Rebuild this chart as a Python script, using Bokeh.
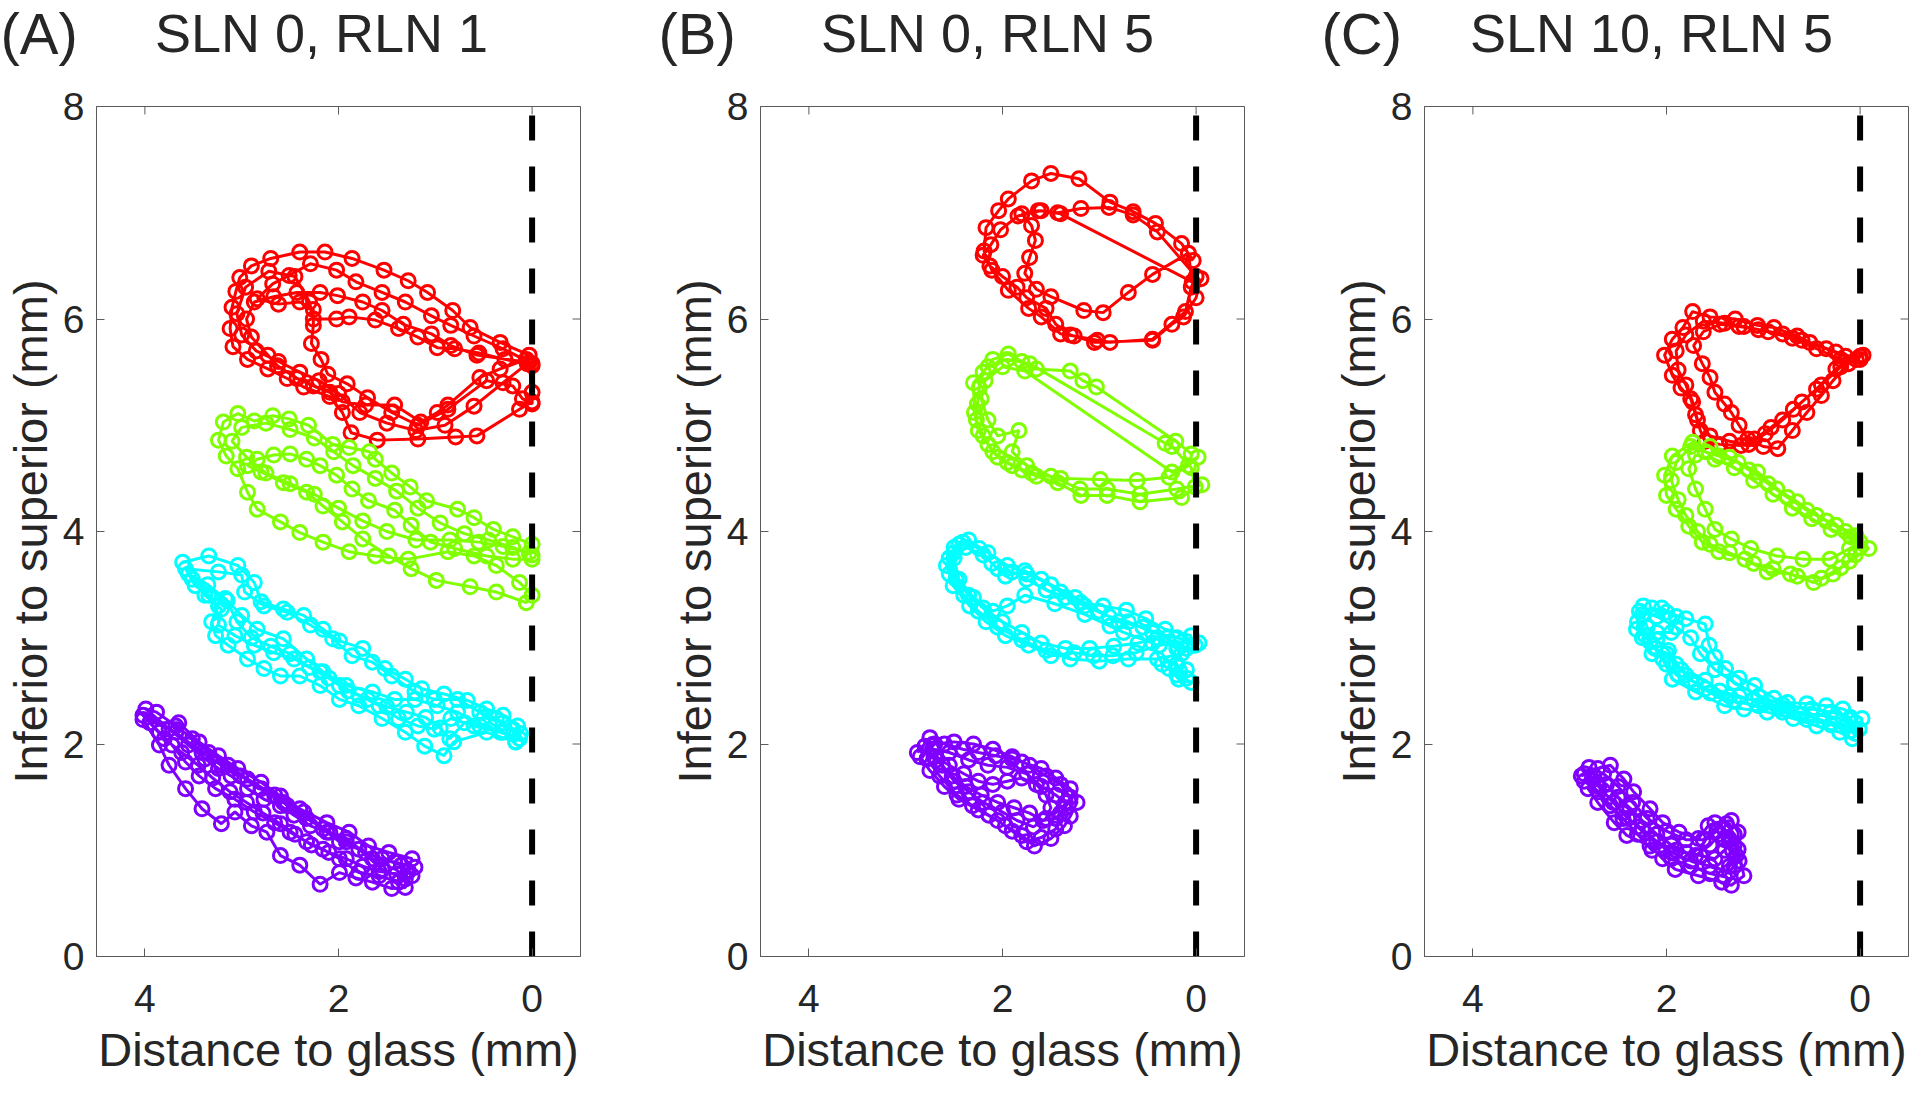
import math
from bokeh.plotting import figure
from bokeh.layouts import row, column
from bokeh.models import Range1d, FixedTicker, Label
from bokeh.embed import file_html
from bokeh.resources import INLINE

# ---------------- chart text / ticks ----------------
PANEL_TAGS = ["(A)", "(B)", "(C)"]
PANEL_TITLES = ["SLN 0, RLN 1", "SLN 0, RLN 5", "SLN 10, RLN 5"]
X_LABEL = "Distance to glass (mm)"
Y_LABEL = "Inferior to superior (mm)"
X_TICKS = [0, 2, 4]
Y_TICKS = [0, 2, 4, 6, 8]
X_LIMITS = (4.5, -0.5)
Y_LIMITS = (0, 8)
GLASS_X = 0.0
SERIES_COLORS = ["#FF0000", "#80FF00", "#00FFFF", "#8000FF"]

# ---------------- data: (distance to glass, inferior->superior) in mm ----------------
A_RED = [
    (0.03, 5.66), (0.33, 5.78), (0.64, 5.92), (0.82, 6.08), (1.08, 6.25), (1.28, 6.36), (1.53, 6.46),
    (1.86, 6.57), (2.14, 6.63), (2.40, 6.63), (2.70, 6.57), (2.90, 6.50), (3.02, 6.39), (3.06, 6.26),
    (3.10, 6.11), (3.12, 5.91), (3.09, 5.74), (2.94, 5.62), (2.73, 5.53), (2.53, 5.44), (2.36, 5.36),
    (2.09, 5.27), (1.96, 5.12), (1.87, 4.93), (1.60, 4.86), (1.18, 4.87), (0.79, 4.89), (0.57, 4.90),
    (0.13, 5.15), (0.00, 5.22), (0.00, 5.31), (0.03, 5.59),
    (0.57, 5.66), (0.84, 5.75), (1.04, 5.86), (1.33, 5.95), (1.55, 6.08), (1.75, 6.16), (2.01, 6.22),
    (2.19, 6.25), (2.43, 6.25), (2.67, 6.21), (2.87, 6.16), (2.95, 6.00), (2.90, 5.83), (2.73, 5.66),
    (2.63, 5.56), (2.43, 5.44), (2.26, 5.37), (2.09, 5.31), (1.96, 5.22), (1.72, 5.19), (1.42, 5.19),
    (1.15, 5.03), (0.98, 5.12), (0.87, 5.19), (0.54, 5.45), (0.33, 5.53), (0.06, 5.62),
    (0.00, 5.58), (0.30, 5.72), (0.60, 5.84), (0.84, 5.94), (1.04, 6.03), (1.31, 6.16), (1.55, 6.25),
    (1.82, 6.35), (2.02, 6.46), (2.29, 6.52), (2.51, 6.41), (2.68, 6.33), (2.84, 6.19), (2.62, 6.14),
    (2.40, 6.16), (2.26, 6.09), (2.26, 5.94), (2.28, 5.77), (2.18, 5.62), (2.11, 5.48), (1.91, 5.39),
    (1.70, 5.26), (1.45, 5.12), (1.18, 5.00), (0.87, 5.15), (0.47, 5.42), (0.20, 5.37), (0.10, 5.25),
    (0.00, 5.20),
    (0.00, 5.56), (0.28, 5.62), (0.55, 5.68), (0.80, 5.72), (0.98, 5.73), (1.18, 5.83), (1.38, 5.91),
    (1.62, 5.99), (1.89, 6.02), (2.02, 6.00), (2.26, 6.00), (2.30, 6.16), (2.45, 6.40), (2.72, 6.45),
    (2.96, 6.30), (3.05, 6.05), (3.00, 5.85), (2.85, 5.70), (2.62, 5.60), (2.40, 5.50), (2.20, 5.42),
    (2.00, 5.30), (1.78, 5.12), (1.50, 5.02), (1.20, 4.95), (0.90, 5.00), (0.60, 5.18), (0.30, 5.40),
    (0.05, 5.58),
]
A_GREEN = [
    (0.00, 3.88), (0.20, 3.95), (0.40, 4.02), (0.60, 4.13), (0.77, 4.21), (1.09, 4.29), (1.26, 4.42),
    (1.45, 4.55), (1.62, 4.68), (1.68, 4.75), (1.89, 4.79), (2.06, 4.82), (2.31, 5.00), (2.51, 5.06),
    (2.68, 5.09), (2.87, 5.04), (3.04, 5.11), (3.19, 5.03), (3.24, 4.86), (3.16, 4.71), (3.04, 4.59),
    (2.94, 4.37), (2.84, 4.21), (2.60, 4.09), (2.40, 3.99), (2.16, 3.90), (1.89, 3.81), (1.62, 3.77),
    (1.28, 3.74), (0.87, 3.81), (0.60, 3.77), (0.37, 3.68), (0.13, 3.52), (0.00, 3.40),
    (0.06, 3.33), (0.37, 3.43), (0.64, 3.48), (0.99, 3.54), (1.25, 3.65), (1.48, 3.77), (1.75, 3.93),
    (1.96, 4.09), (2.16, 4.24), (2.33, 4.37), (2.57, 4.46), (2.80, 4.56), (2.94, 4.62), (2.84, 4.68),
    (2.67, 4.72), (2.50, 4.73), (2.33, 4.68), (2.19, 4.62), (2.02, 4.53), (1.86, 4.40), (1.69, 4.29),
    (1.42, 4.20), (1.25, 4.06), (1.05, 3.90), (0.80, 3.84), (0.47, 3.77), (0.20, 3.74), (0.00, 3.74),
    (0.03, 3.80), (0.30, 3.86), (0.55, 3.90), (0.85, 3.92), (1.20, 3.92), (1.50, 4.00), (1.75, 4.10),
    (2.00, 4.22), (2.25, 4.35), (2.50, 4.45), (2.75, 4.55), (2.95, 4.70), (3.10, 4.85), (3.00, 4.98),
    (2.75, 5.02), (2.50, 4.96), (2.25, 4.88), (2.05, 4.75), (1.85, 4.62), (1.62, 4.50), (1.40, 4.38),
    (1.18, 4.22), (0.95, 4.08), (0.70, 3.98), (0.45, 3.92), (0.20, 3.85), (0.00, 3.78),
]
A_CYAN = [
    (3.61, 3.71), (3.34, 3.77), (3.04, 3.68), (2.87, 3.52), (2.80, 3.34), (2.57, 3.27), (2.36, 3.21),
    (2.16, 3.08), (1.99, 2.97), (1.75, 2.90), (1.52, 2.71), (1.31, 2.61), (1.14, 2.52), (0.91, 2.47),
    (0.67, 2.41), (0.47, 2.33), (0.30, 2.27), (0.15, 2.17), (0.17, 2.02), (0.47, 2.11), (0.81, 2.02),
    (0.91, 1.89), (1.11, 1.98), (1.31, 2.11), (1.55, 2.24), (1.79, 2.36), (1.99, 2.42), (2.19, 2.55),
    (2.40, 2.64), (2.60, 2.64), (2.77, 2.71), (2.94, 2.80), (3.14, 2.93), (3.27, 3.02), (3.31, 3.15),
    (3.24, 3.30), (3.34, 3.40), (3.48, 3.49), (3.58, 3.65),
    (3.24, 3.62), (3.00, 3.59), (2.97, 3.43), (2.77, 3.30), (2.53, 3.24), (2.29, 3.12), (2.06, 2.99),
    (1.86, 2.83), (1.65, 2.77), (1.45, 2.64), (1.21, 2.49), (1.01, 2.42), (0.77, 2.42), (0.54, 2.30),
    (0.37, 2.24), (0.20, 2.14), (0.13, 2.05), (0.33, 2.11), (0.60, 2.17), (0.84, 2.24), (1.01, 2.14),
    (1.18, 2.17), (1.38, 2.24), (1.58, 2.36), (1.79, 2.46), (1.99, 2.55), (2.19, 2.68), (2.46, 2.80),
    (2.67, 2.86), (2.87, 2.93), (3.07, 3.02), (3.24, 3.12), (3.21, 3.27), (3.38, 3.40), (3.51, 3.55),
    (3.17, 3.37), (3.00, 3.21), (2.84, 3.08), (2.57, 2.99), (2.33, 2.80), (2.16, 2.68), (1.92, 2.55),
    (1.65, 2.49), (1.42, 2.42), (1.21, 2.42), (0.98, 2.36), (0.77, 2.30), (0.54, 2.17), (0.30, 2.11),
    (0.17, 2.02),
    (0.12, 2.10), (0.30, 2.20), (0.50, 2.25), (0.70, 2.20), (0.85, 2.05), (0.95, 2.15), (1.10, 2.25),
    (1.30, 2.30), (1.50, 2.35), (1.70, 2.42), (1.90, 2.50), (2.10, 2.62), (2.30, 2.72), (2.50, 2.85),
    (2.70, 2.92), (2.90, 3.00), (3.05, 3.15), (3.15, 3.35), (3.35, 3.50), (3.55, 3.60),
]
A_PURPLE = [
    (4.02, 2.23), (3.85, 1.99), (3.75, 1.80), (3.58, 1.58), (3.41, 1.39), (3.21, 1.25), (3.07, 1.36),
    (2.90, 1.23), (2.74, 1.17), (2.60, 0.95), (2.40, 0.86), (2.19, 0.68), (1.99, 0.79), (1.82, 0.74),
    (1.65, 0.70), (1.45, 0.64), (1.31, 0.65), (1.21, 0.84), (1.42, 0.89), (1.65, 0.92), (1.92, 1.11),
    (2.09, 1.17), (2.33, 1.30), (2.53, 1.42), (2.66, 1.52), (2.94, 1.67), (3.14, 1.80), (3.34, 1.92),
    (3.51, 2.05), (3.68, 2.17), (3.88, 2.30), (3.99, 2.33),
    (3.75, 2.14), (3.55, 1.99), (3.38, 1.86), (3.24, 1.77), (3.11, 1.70), (2.94, 1.58), (2.77, 1.48),
    (2.60, 1.42), (2.46, 1.33), (2.29, 1.23), (2.12, 1.17), (1.92, 1.08), (1.72, 0.98), (1.55, 0.92),
    (1.35, 0.86), (1.24, 0.76), (1.38, 0.70), (1.58, 0.76), (1.79, 0.79), (1.99, 0.92), (2.16, 1.01),
    (2.33, 1.08), (2.50, 1.17), (2.66, 1.26), (2.87, 1.36), (3.07, 1.48), (3.27, 1.58), (3.44, 1.70),
    (3.58, 1.83), (3.72, 1.99), (3.85, 2.11), (4.02, 2.27),
    (3.68, 2.11), (3.41, 1.92), (3.21, 1.80), (3.01, 1.70), (2.80, 1.58), (2.57, 1.45), (2.36, 1.36),
    (2.16, 1.20), (1.99, 1.08), (1.79, 1.01), (1.55, 0.82), (1.31, 0.73), (1.24, 0.92), (1.48, 0.98),
    (1.69, 1.04), (1.89, 1.17), (2.12, 1.26), (2.40, 1.39), (2.60, 1.51), (2.80, 1.64), (3.04, 1.77),
    (3.24, 1.89), (3.44, 2.02), (3.65, 2.20),
    (3.95, 2.20), (3.80, 2.05), (3.62, 1.92), (3.45, 1.80), (3.30, 1.68), (3.12, 1.55), (2.95, 1.45),
    (2.78, 1.35), (2.60, 1.25), (2.45, 1.15), (2.28, 1.05), (2.10, 0.98), (1.92, 0.92), (1.75, 0.85),
    (1.58, 0.80), (1.40, 0.78), (1.28, 0.80),
]

B_RED = [
    (0.03, 6.55), (0.15, 6.71), (0.42, 6.90), (0.65, 7.01), (0.89, 7.10), (1.21, 7.32), (1.50, 7.37),
    (1.70, 7.30), (1.94, 7.13), (2.04, 7.02), (2.17, 6.86), (2.19, 6.64), (2.11, 6.46), (1.94, 6.27),
    (1.73, 6.10), (1.60, 6.02), (1.40, 5.86), (1.26, 5.84), (1.02, 5.80), (0.89, 5.78), (0.45, 5.81),
    (0.11, 6.07), (0.05, 6.30),
    (0.00, 6.40), (0.40, 6.82), (0.65, 6.98), (0.90, 7.05), (1.19, 7.04), (1.43, 7.00), (1.63, 7.02),
    (1.80, 6.99), (1.70, 6.88), (1.66, 6.74), (1.72, 6.58), (1.77, 6.43), (1.65, 6.28), (1.50, 6.21),
    (1.16, 6.08), (0.96, 6.06), (0.70, 6.25), (0.45, 6.42), (0.08, 6.62),
    (0.04, 6.35), (1.40, 6.99), (1.60, 7.02), (1.84, 6.97), (2.02, 6.84), (2.12, 6.70), (2.20, 6.60),
    (2.13, 6.50), (2.00, 6.40), (1.85, 6.30), (1.75, 6.20), (1.55, 6.10), (1.45, 5.95), (1.30, 5.85),
    (1.05, 5.78), (0.45, 5.80), (0.25, 5.95), (0.13, 6.02), (0.00, 6.20), (-0.05, 6.38),
]
B_GREEN = [
    (0.05, 4.73), (0.21, 4.85), (1.03, 5.36), (1.17, 5.42), (1.30, 5.51), (1.65, 5.53), (1.80, 5.60),
    (1.94, 5.67), (2.10, 5.62), (2.20, 5.50), (2.24, 5.35), (2.26, 5.20), (2.27, 5.05), (2.20, 4.90),
    (2.10, 4.75), (1.95, 4.65), (1.80, 4.58), (1.65, 4.52), (1.43, 4.46), (1.19, 4.34), (0.92, 4.34),
    (0.58, 4.28), (0.15, 4.32), (0.01, 4.42), (0.05, 4.60),
    (0.25, 4.80), (0.32, 4.83), (1.72, 5.58), (1.95, 5.62), (2.15, 5.55), (2.30, 5.40), (2.29, 5.12),
    (2.25, 4.95), (2.15, 4.82), (2.05, 4.70), (1.90, 4.62), (1.70, 4.55), (1.40, 4.50), (0.99, 4.49),
    (0.61, 4.48), (0.28, 4.51), (0.08, 4.62), (-0.02, 4.70),
    (0.25, 4.56), (1.77, 5.51), (2.00, 5.55), (2.18, 5.42), (2.22, 5.25), (2.15, 5.05), (2.05, 4.90),
    (1.83, 4.95), (1.90, 4.75), (1.75, 4.62), (1.50, 4.52), (1.20, 4.40), (0.92, 4.40), (0.58, 4.35),
    (0.20, 4.40), (-0.06, 4.44),
]
B_CYAN = [
    (0.01, 2.93), (0.15, 2.96), (0.38, 2.93), (0.62, 2.86), (0.86, 2.83), (1.06, 2.83), (1.26, 2.86),
    (1.50, 2.83), (1.73, 2.93), (1.97, 3.02), (2.17, 3.15), (2.34, 3.30), (2.51, 3.49), (2.58, 3.68),
    (2.50, 3.85), (2.41, 3.90), (2.24, 3.84), (2.11, 3.70), (1.97, 3.58), (1.77, 3.63), (1.60, 3.55),
    (1.40, 3.43), (1.19, 3.33), (0.96, 3.30), (0.72, 3.26), (0.52, 3.18), (0.32, 3.08), (0.05, 3.02),
    (0.10, 2.90), (0.28, 2.71), (0.18, 2.61), (0.05, 2.58), (0.20, 2.65), (0.35, 2.75), (0.45, 2.95),
    (0.75, 3.05), (0.89, 3.11), (1.15, 3.22), (1.46, 3.32), (1.77, 3.40), (1.95, 3.30), (2.10, 3.25),
    (2.30, 3.38), (2.45, 3.55), (2.50, 3.75), (2.38, 3.85), (2.20, 3.78), (2.05, 3.65), (1.90, 3.62),
    (1.75, 3.55), (1.55, 3.45), (1.35, 3.38), (1.15, 3.30), (0.90, 3.20), (0.70, 3.15), (0.45, 3.05),
    (0.20, 3.00), (-0.03, 2.95),
    (0.15, 2.85), (0.40, 2.80), (0.70, 2.80), (1.00, 2.78), (1.30, 2.80), (1.55, 2.88), (1.80, 2.98),
    (2.05, 3.10), (2.25, 3.25), (2.40, 3.40), (2.55, 3.60), (2.50, 3.80), (2.35, 3.92), (2.15, 3.80),
    (1.95, 3.68), (1.75, 3.60), (1.50, 3.50), (1.25, 3.38), (1.00, 3.25), (0.80, 3.15), (0.55, 3.10),
    (0.30, 3.00), (0.20, 2.75), (0.10, 2.62),
    (0.10, 2.70), (0.20, 2.90), (0.40, 3.00), (0.60, 2.95), (0.85, 2.92), (1.10, 2.90), (1.35, 2.90),
    (1.60, 2.95), (1.80, 3.05), (2.00, 3.15), (2.20, 3.28), (2.35, 3.40), (2.48, 3.55), (2.55, 3.75),
    (2.45, 3.88),
]
B_PURPLE = [
    (2.88, 1.92), (2.75, 2.06), (2.60, 2.00), (2.41, 1.95), (2.25, 1.92), (2.07, 1.89), (1.90, 1.86),
    (1.80, 1.83), (1.60, 1.77), (1.45, 1.68), (1.30, 1.58), (1.23, 1.45), (1.30, 1.32), (1.36, 1.23),
    (1.50, 1.11), (1.67, 1.04), (1.80, 1.14), (1.97, 1.23), (2.14, 1.33), (2.31, 1.42), (2.47, 1.52),
    (2.65, 1.70), (2.78, 1.86),
    (2.70, 1.88), (2.55, 1.80), (2.40, 1.72), (2.25, 1.65), (2.10, 1.62), (1.95, 1.65), (1.80, 1.68),
    (1.65, 1.62), (1.55, 1.52), (1.50, 1.40), (1.55, 1.30), (1.68, 1.22), (1.85, 1.28), (2.00, 1.36),
    (2.20, 1.45), (2.35, 1.55), (2.50, 1.65), (2.62, 1.80), (2.72, 1.95),
    (2.55, 1.92), (2.35, 1.85), (2.15, 1.80), (1.95, 1.78), (1.75, 1.72), (1.60, 1.60), (1.45, 1.52),
    (1.35, 1.45), (1.40, 1.35), (1.45, 1.20), (1.60, 1.12), (1.75, 1.08), (1.90, 1.18), (2.05, 1.28),
    (2.25, 1.38), (2.45, 1.48), (2.60, 1.60), (2.75, 1.75), (2.85, 1.88),
    (2.70, 2.00), (2.50, 2.02), (2.30, 2.00), (2.10, 1.95), (1.90, 1.88), (1.72, 1.80), (1.55, 1.70),
    (1.40, 1.62), (1.30, 1.50), (1.35, 1.40), (1.45, 1.30), (1.58, 1.28), (1.72, 1.35), (1.88, 1.40),
    (2.05, 1.45), (2.22, 1.52), (2.38, 1.60), (2.52, 1.70), (2.68, 1.85), (2.80, 1.98),
]

C_RED = [
    (0.00, 5.62), (0.25, 5.69), (0.52, 5.78), (0.65, 5.84), (0.89, 5.92), (1.06, 5.94), (1.29, 6.00),
    (1.55, 6.02), (1.73, 6.07), (1.83, 5.92), (1.94, 5.81), (2.02, 5.66), (1.94, 5.47), (1.85, 5.35),
    (1.75, 5.25), (1.70, 5.10), (1.65, 4.95), (1.60, 4.85), (1.45, 4.82), (1.23, 4.81), (1.09, 4.87),
    (0.92, 4.98), (0.69, 5.15), (0.45, 5.34), (0.25, 5.53), (0.04, 5.62),
    (0.15, 5.65), (0.35, 5.72), (0.60, 5.80), (0.80, 5.86), (1.05, 5.90), (1.25, 5.93), (1.45, 5.95),
    (1.62, 5.88), (1.72, 5.75), (1.63, 5.58), (1.55, 5.45), (1.50, 5.31), (1.40, 5.20), (1.33, 5.12),
    (1.25, 5.00), (1.16, 4.87), (1.00, 4.80), (0.85, 4.78), (0.70, 4.95), (0.55, 5.12), (0.40, 5.28),
    (0.28, 5.42), (0.12, 5.58), (-0.03, 5.66),
    (0.20, 5.62), (0.45, 5.72), (0.70, 5.82), (0.95, 5.88), (1.20, 5.93), (1.40, 5.96), (1.62, 5.98),
    (1.80, 5.85), (1.90, 5.70), (1.88, 5.52), (1.80, 5.38), (1.73, 5.22), (1.68, 5.05), (1.55, 4.90),
    (1.35, 4.85), (1.15, 4.82), (0.98, 4.92), (0.80, 5.05), (0.60, 5.22), (0.40, 5.38), (0.20, 5.55),
    (0.00, 5.65),
]
C_GREEN = [
    (0.00, 3.85), (0.04, 3.96), (0.25, 4.06), (0.45, 4.15), (0.65, 4.28), (0.86, 4.40), (1.06, 4.56),
    (1.26, 4.65), (1.46, 4.71), (1.60, 4.75), (1.73, 4.84), (1.94, 4.71), (2.02, 4.53), (2.00, 4.34),
    (1.90, 4.21), (1.77, 4.05), (1.63, 3.90), (1.46, 3.81), (1.19, 3.74), (0.96, 3.62), (0.72, 3.60),
    (0.48, 3.52), (0.28, 3.60), (0.11, 3.72), (-0.09, 3.84),
    (0.10, 3.95), (0.30, 4.02), (0.50, 4.12), (0.70, 4.22), (0.90, 4.35), (1.10, 4.48), (1.30, 4.60),
    (1.50, 4.68), (1.70, 4.72), (1.77, 4.59), (1.70, 4.40), (1.60, 4.21), (1.50, 4.02), (1.33, 3.93),
    (1.13, 3.84), (0.86, 3.77), (0.59, 3.74), (0.31, 3.74), (0.11, 3.84), (0.00, 3.90),
    (0.15, 4.00), (0.35, 4.10), (0.55, 4.20), (0.75, 4.32), (0.95, 4.45), (1.15, 4.58), (1.35, 4.70),
    (1.55, 4.80), (1.75, 4.80), (1.90, 4.65), (1.95, 4.48), (1.88, 4.30), (1.80, 4.15), (1.68, 4.00),
    (1.55, 3.88), (1.35, 3.80), (1.10, 3.70), (0.90, 3.65), (0.65, 3.58), (0.40, 3.56), (0.20, 3.66),
    (0.05, 3.78),
]
C_CYAN = [
    (2.24, 3.30), (2.31, 3.08), (2.17, 2.96), (2.04, 2.80), (1.94, 2.61), (1.70, 2.49), (1.40, 2.36),
    (1.20, 2.33), (0.96, 2.30), (0.69, 2.24), (0.45, 2.17), (0.21, 2.11), (0.08, 2.05), (0.01, 2.14),
    (-0.02, 2.24), (0.18, 2.33), (0.35, 2.36), (0.55, 2.38), (0.75, 2.39), (0.89, 2.43), (1.09, 2.55),
    (1.25, 2.62), (1.39, 2.71), (1.50, 2.82), (1.56, 2.93), (1.60, 3.13), (1.80, 3.18), (2.00, 3.24),
    (2.15, 3.28),
    (2.25, 3.22), (2.20, 3.10), (2.10, 2.98), (1.98, 2.88), (1.85, 2.70), (1.75, 2.60), (1.60, 2.52),
    (1.35, 2.45), (1.10, 2.42), (0.85, 2.35), (0.60, 2.28), (0.38, 2.22), (0.15, 2.18), (0.05, 2.10),
    (0.10, 2.25), (0.30, 2.30), (0.50, 2.33), (0.80, 2.37), (1.05, 2.45), (1.30, 2.58), (1.50, 2.70),
    (1.65, 2.85), (1.75, 3.00), (1.90, 3.10), (2.10, 3.20), (2.28, 3.25),
    (2.30, 3.15), (2.22, 3.02), (2.12, 2.90), (2.00, 2.75), (1.88, 2.65), (1.70, 2.58), (1.55, 2.48),
    (1.30, 2.40), (1.05, 2.36), (0.80, 2.30), (0.55, 2.23), (0.30, 2.18), (0.10, 2.12),
    (0.05, 2.20), (0.25, 2.25), (0.50, 2.28), (0.75, 2.32), (1.00, 2.38), (1.25, 2.45), (1.45, 2.50),
    (1.60, 2.60), (1.80, 2.65), (1.90, 2.75), (2.00, 2.85), (2.15, 2.85), (2.25, 3.00), (2.10, 3.05),
    (1.95, 3.05), (1.90, 3.20), (2.05, 3.28),
]
C_PURPLE = [
    (2.88, 1.70), (2.71, 1.77), (2.58, 1.80), (2.44, 1.67), (2.34, 1.55), (2.17, 1.39), (2.04, 1.26),
    (1.87, 1.17), (1.67, 1.11), (1.57, 1.23), (1.50, 1.26), (1.33, 1.28), (1.26, 1.17), (1.26, 1.01),
    (1.20, 0.76), (1.33, 0.67), (1.43, 0.70), (1.67, 0.76), (1.91, 0.82), (2.04, 0.92), (2.17, 1.04),
    (2.41, 1.14), (2.54, 1.26), (2.71, 1.45), (2.81, 1.58),
    (2.75, 1.70), (2.62, 1.62), (2.50, 1.50), (2.38, 1.40), (2.25, 1.28), (2.10, 1.15), (1.95, 1.05),
    (1.80, 0.98), (1.65, 0.95), (1.50, 0.92), (1.40, 1.00), (1.35, 1.10), (1.40, 1.20), (1.30, 1.05),
    (1.25, 0.90), (1.35, 0.80), (1.55, 0.85), (1.75, 0.90), (1.95, 0.98), (2.15, 1.10), (2.30, 1.22),
    (2.45, 1.35), (2.60, 1.50), (2.72, 1.62), (2.85, 1.72),
    (2.70, 1.60), (2.55, 1.45), (2.40, 1.30), (2.25, 1.20), (2.10, 1.08), (1.90, 1.00), (1.70, 0.95),
    (1.55, 1.05), (1.45, 1.15), (1.38, 1.25), (1.30, 1.15), (1.28, 0.95), (1.35, 0.85),
    (1.40, 0.75), (1.55, 0.78), (1.75, 0.85), (1.95, 0.92), (2.15, 1.00), (2.30, 1.15), (2.45, 1.30),
    (2.58, 1.42), (2.70, 1.55), (2.85, 1.65), (2.80, 1.78), (2.65, 1.72), (2.50, 1.60), (2.35, 1.45),
    (2.20, 1.30), (2.00, 1.18), (1.80, 1.10), (1.62, 1.10), (1.48, 1.18), (1.40, 1.10), (1.32, 1.00),
    (1.30, 0.85),
]

PANEL_SERIES = [
    [A_RED, A_GREEN, A_CYAN, A_PURPLE],
    [B_RED, B_GREEN, B_CYAN, B_PURPLE],
    [C_RED, C_GREEN, C_CYAN, C_PURPLE],
]

# ---------------- styling / layout ----------------
FONT = "Liberation Sans"
TEXT_COLOR = "#262626"
AXIS_COLOR = "#5a5a5a"
FRAME_W = 492
FRAME_H = 850
TOTAL_H = 1080
HEADER_H = 78
FIG_H = TOTAL_H - HEADER_H
BORDER_TOP = 106 - HEADER_H
BORDER_BOTTOM = FIG_H - BORDER_TOP - FRAME_H
BORDER_LEFT = 88
RIGHT_BORDERS = [84, 84, 1]
PANEL_WIDTHS = [BORDER_LEFT + FRAME_W + rb for rb in RIGHT_BORDERS]
TAG_X = [0, 658, 1321]               # left edge of "(A)", "(B)", "(C)" in the header strip
TITLE_CX = [321, 987, 1651]          # centre of each panel title in the header strip
TAG_TOP = HEADER_H - 0.5             # top of the text boxes, measured up from the strip's bottom
TITLE_TOP = HEADER_H - 2.5


def make_header():
    h = figure(width=sum(PANEL_WIDTHS), height=HEADER_H, output_backend="svg",
               toolbar_location=None, x_range=Range1d(0, 1), y_range=Range1d(0, 1),
               x_axis_location=None, y_axis_location=None, min_border=0)
    h.xgrid.visible = False
    h.ygrid.visible = False
    h.outline_line_color = None
    h.background_fill_color = "white"
    h.border_fill_color = "white"
    for i in range(3):
        h.add_layout(Label(x=TAG_X[i], y=TAG_TOP, x_units="screen", y_units="screen",
                           text=PANEL_TAGS[i], text_font=FONT, text_font_size="58px",
                           text_line_height=1.0, text_color=TEXT_COLOR,
                           text_align="left", text_baseline="top"))
        h.add_layout(Label(x=TITLE_CX[i], y=TITLE_TOP, x_units="screen", y_units="screen",
                           text=PANEL_TITLES[i], text_font=FONT, text_font_size="54px",
                           text_line_height=1.0, text_color=TEXT_COLOR,
                           text_align="center", text_baseline="top"))
    return h


def make_panel(idx):
    rb = RIGHT_BORDERS[idx]
    p = figure(
        width=PANEL_WIDTHS[idx], height=FIG_H,
        x_range=Range1d(*X_LIMITS), y_range=Range1d(*Y_LIMITS),
        output_backend="svg", toolbar_location=None,
        min_border_left=BORDER_LEFT, min_border_right=rb,
        min_border_top=BORDER_TOP, min_border_bottom=BORDER_BOTTOM,
    )
    p.xgrid.visible = False
    p.ygrid.visible = False
    p.outline_line_color = AXIS_COLOR
    p.outline_line_width = 1
    p.background_fill_color = "white"
    p.border_fill_color = "white"

    for pts, color in zip(PANEL_SERIES[idx], SERIES_COLORS):
        xs = [q[0] for q in pts]
        ys = [q[1] for q in pts]
        p.line(xs, ys, line_color=color, line_width=3)
        p.scatter(xs, ys, marker="circle", size=14, line_color=color,
                  line_width=3, fill_color=None)

    # vertical dashed glass line
    p.line([GLASS_X, GLASS_X], [Y_LIMITS[0], Y_LIMITS[1]], line_color="black",
           line_width=6, line_dash="25 26")

    # mirrored inward ticks on top and right (half of each dash is clipped by the frame)
    p.scatter(X_TICKS, [Y_LIMITS[1]] * len(X_TICKS), marker="dash", size=16,
              angle=math.pi / 2, line_color=AXIS_COLOR, line_width=1)
    p.scatter([X_LIMITS[1]] * len(Y_TICKS), Y_TICKS, marker="dash", size=16,
              line_color=AXIS_COLOR, line_width=1)

    # axes
    p.xaxis.ticker = FixedTicker(ticks=X_TICKS)
    p.yaxis.ticker = FixedTicker(ticks=Y_TICKS)
    for ax in (p.xaxis[0], p.yaxis[0]):
        ax.major_tick_in = 8
        ax.major_tick_out = 0
        ax.minor_tick_line_color = None
        ax.major_tick_line_color = AXIS_COLOR
        ax.axis_line_color = AXIS_COLOR
        ax.major_label_text_font = FONT
        ax.major_label_text_font_size = "39px"
        ax.major_label_text_color = TEXT_COLOR
        ax.major_label_text_line_height = 1.0
        ax.axis_label_text_font = FONT
        ax.axis_label_text_font_size = "47px"
        ax.axis_label_text_font_style = "normal"
        ax.axis_label_text_color = TEXT_COLOR
    p.xaxis.axis_label_text_line_height = 1.0
    p.xaxis.major_label_standoff = 28
    p.yaxis.major_label_standoff = 12
    p.xaxis.axis_label = X_LABEL
    p.yaxis.axis_label = Y_LABEL
    p.xaxis.axis_label_standoff = 8
    p.yaxis.axis_label_standoff = 3
    return p


layout = column(make_header(), row(make_panel(0), make_panel(1), make_panel(2)))
open("out.html", "w").write(file_html(layout, INLINE))
